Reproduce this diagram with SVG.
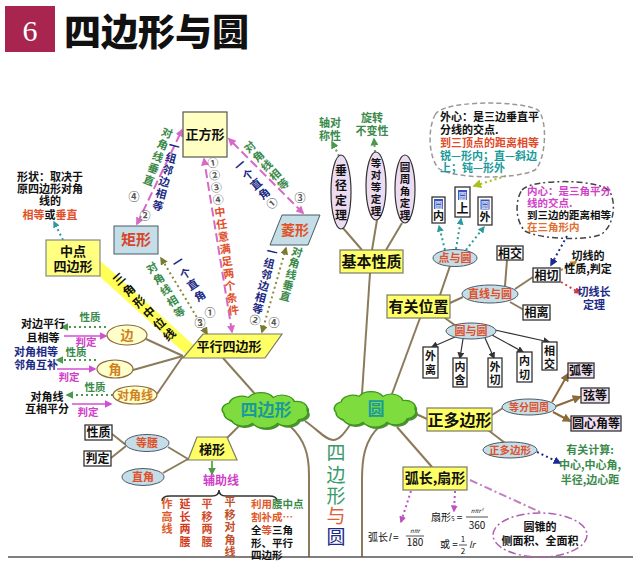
<svg xmlns="http://www.w3.org/2000/svg" width="640" height="563" viewBox="0 0 640 563">
<defs>
<style>
text{font-family:"Noto Sans CJK SC","Noto Sans",sans-serif;font-weight:bold;font-size:11px}
.c{text-anchor:middle}
.yb{fill:#ffff66;stroke:#7a7a6a;stroke-width:1.2}
.sq{fill:#ffffc4;stroke:#555;stroke-width:1.2}
.lb{fill:#c4dde6;stroke:#4a5a66;stroke-width:1}
.wb{fill:#fff;stroke:#333;stroke-width:1.3}
.pb{fill:#f0e0f2;stroke:#333;stroke-width:1.3}
.el{fill:#ecdcf2;stroke:#333;stroke-width:1.2}
.ye{fill:#ffffcc;stroke:#8b6b3b;stroke-width:1.2}
.br{stroke:#8b7b5b;stroke-width:2;fill:none}
.cl{fill:#7edc3e;stroke:#3c961c;stroke-width:1.5}
.cs{fill:#4f8f3a}
.g{fill:#3a8a4a}
.n{fill:#1c2a84}
.o{fill:#e0502a}
.k{fill:#111}
.m{fill:#d040c8}
.t{fill:#1a9a9a}
.gy{fill:#555}
.dg{stroke:#4a9a4a;stroke-width:2;stroke-dasharray:2 3;fill:none}
.pj{stroke:#d050d0;stroke-width:1.6;fill:none}
.pk{stroke:#d868c8;stroke-width:2;fill:none;stroke-dasharray:9 4}
.ol{stroke:#8a8a40;stroke-width:2;stroke-dasharray:2 3;fill:none}
.dt{stroke-width:2;stroke-dasharray:2 3;fill:none}
.dk{stroke:#333;stroke-width:1.2;fill:none}
.vt{font-size:19px;font-weight:normal}
</style>
<marker id="mPk" viewBox="0 0 10 10" refX="8" refY="5" markerWidth="8" markerHeight="8" markerUnits="userSpaceOnUse" orient="auto-start-reverse"><path d="M0,0L10,5L0,10z" fill="#d868c8"/></marker>
<marker id="mOl" viewBox="0 0 10 10" refX="8" refY="5" markerWidth="8" markerHeight="8" markerUnits="userSpaceOnUse" orient="auto-start-reverse"><path d="M0,0L10,5L0,10z" fill="#7a7a30"/></marker>
<marker id="mGr" viewBox="0 0 10 10" refX="8" refY="5" markerWidth="8" markerHeight="8" markerUnits="userSpaceOnUse" orient="auto"><path d="M0,0L10,5L0,10z" fill="#4a9a4a"/></marker>
<marker id="mMg" viewBox="0 0 10 10" refX="8" refY="5" markerWidth="8" markerHeight="8" markerUnits="userSpaceOnUse" orient="auto"><path d="M0,0L10,5L0,10z" fill="#d050d0"/></marker>
<marker id="mTl" viewBox="0 0 10 10" refX="8" refY="5" markerWidth="7" markerHeight="7" markerUnits="userSpaceOnUse" orient="auto"><path d="M0,0L10,5L0,10z" fill="#2a9a9a"/></marker>
<marker id="mNv" viewBox="0 0 10 10" refX="8" refY="5" markerWidth="8" markerHeight="8" markerUnits="userSpaceOnUse" orient="auto"><path d="M0,0L10,5L0,10z" fill="#1c2a90"/></marker>
<marker id="mBr" viewBox="0 0 10 10" refX="8" refY="5" markerWidth="9" markerHeight="9" markerUnits="userSpaceOnUse" orient="auto"><path d="M0,0L10,5L0,10z" fill="#8b6b3b"/></marker>
<marker id="mDk" viewBox="0 0 10 10" refX="8" refY="5" markerWidth="7" markerHeight="7" markerUnits="userSpaceOnUse" orient="auto"><path d="M0,0L10,5L0,10z" fill="#333"/></marker>
<marker id="mYg" viewBox="0 0 10 10" refX="8" refY="5" markerWidth="9" markerHeight="9" markerUnits="userSpaceOnUse" orient="auto"><path d="M0,0L10,5L0,10z" fill="#a8c020"/></marker>
<marker id="mRd" viewBox="0 0 10 10" refX="8" refY="5" markerWidth="7" markerHeight="7" markerUnits="userSpaceOnUse" orient="auto"><path d="M0,0L10,5L0,10z" fill="#d03a3a"/></marker>
<marker id="mOr" viewBox="0 0 10 10" refX="8" refY="5" markerWidth="7" markerHeight="7" markerUnits="userSpaceOnUse" orient="auto"><path d="M0,0L10,5L0,10z" fill="#c08030"/></marker>
<marker id="mPu" viewBox="0 0 10 10" refX="8" refY="5" markerWidth="7" markerHeight="7" markerUnits="userSpaceOnUse" orient="auto"><path d="M0,0L10,5L0,10z" fill="#c050c0"/></marker>
<path id="cloud" d="M-40,5 a10,10 0 0 1 5,-15 a12,12 0 0 1 18,-8 a14,14 0 0 1 24,0 a12,12 0 0 1 20,6 a10,10 0 0 1 12,12 a10,10 0 0 1 -8,14 a12,12 0 0 1 -20,5 a14,14 0 0 1 -24,0 a12,12 0 0 1 -20,-4 a10,10 0 0 1 -7,-10 z"/>
</defs>
<rect width="640" height="563" fill="#fff"/>

<!-- header -->
<g id="header">
<rect x="5" y="6" width="50" height="46" fill="#a8254f"/>
<text x="30" y="41" class="c" style="font-family:'Liberation Serif',serif;font-weight:normal;font-size:30px;fill:#fff">6</text>
<text x="64" y="46" style="font-size:37px;font-weight:900;fill:#111">四边形与圆</text>
</g>

<!-- connectors -->
<g id="connectors">
<path class="br" d="M290,426 C305,440 309,455 309,475 L309,557"/>
<path class="br" d="M305,421 C318,430 326,440 333,440 C340,440 345,432 350,425"/>
<path class="br" d="M380,426 C364,440 362,460 362,480 L362,557"/>
<line x1="8" y1="557" x2="633" y2="557" stroke="#555" stroke-width="1.5"/>
<line class="br" x1="223" y1="358" x2="255" y2="394"/>
<line class="br" x1="227" y1="438" x2="242" y2="423"/>
<line class="br" x1="183" y1="356" x2="146" y2="339"/>
<line class="br" x1="183" y1="356" x2="133" y2="370"/>
<line class="br" x1="183" y1="356" x2="157" y2="394"/>
<line class="br" x1="188" y1="459" x2="168" y2="447"/>
<line class="br" x1="188" y1="459" x2="163" y2="473"/>
<line class="br" x1="126" y1="445" x2="112" y2="434"/>
<line class="br" x1="126" y1="446" x2="111" y2="458"/>
<line x1="97" y1="266" x2="190" y2="350" stroke="#ffff55" stroke-width="12"/>
<line class="br" x1="362" y1="394" x2="370" y2="273"/>
<line class="br" x1="343" y1="228" x2="362" y2="250"/>
<line class="br" x1="377" y1="220" x2="372" y2="250"/>
<line class="br" x1="402" y1="223" x2="386" y2="250"/>
<line class="br" x1="392" y1="394" x2="420" y2="318"/>
<line class="br" x1="440" y1="295" x2="450" y2="266"/>
<line class="br" x1="450" y1="303" x2="463" y2="297"/>
<line class="br" x1="445" y1="318" x2="456" y2="326"/>
<line class="br" x1="505" y1="286" x2="507" y2="260"/>
<line class="br" x1="515" y1="289" x2="533" y2="277"/>
<line class="br" x1="510" y1="302" x2="524" y2="310"/>
<line class="br" x1="414" y1="413" x2="427" y2="419"/>
<line class="br" x1="397" y1="427" x2="432" y2="467"/>
<line class="br" x1="492" y1="415" x2="503" y2="408"/>
<line class="br" x1="488" y1="430" x2="505" y2="443"/>
<line x1="552" y1="402" x2="568" y2="374" stroke="#8b6b3b" stroke-width="2" marker-end="url(#mBr)"/>
<line x1="556" y1="406" x2="580" y2="397" stroke="#8b6b3b" stroke-width="2" marker-end="url(#mBr)"/>
<line x1="553" y1="412" x2="570" y2="421" stroke="#8b6b3b" stroke-width="2" marker-end="url(#mBr)"/>
<line class="dk" x1="455" y1="337" x2="432" y2="347" marker-end="url(#mDk)"/>
<line class="dk" x1="463" y1="339" x2="460" y2="358" marker-end="url(#mDk)"/>
<line class="dk" x1="485" y1="338" x2="494" y2="358" marker-end="url(#mDk)"/>
<line class="dk" x1="492" y1="335" x2="523" y2="352" marker-end="url(#mDk)"/>
<line class="dk" x1="495" y1="330" x2="549" y2="342" marker-end="url(#mDk)"/>
<line class="pk" x1="137" y1="224" x2="182" y2="130" marker-start="url(#mPk)" marker-end="url(#mPk)"/>
<line class="ol" x1="207" y1="334" x2="161" y2="258" marker-start="url(#mOl)" marker-end="url(#mOl)"/>
<line class="ol" x1="262" y1="332" x2="286" y2="248" marker-start="url(#mOl)" marker-end="url(#mOl)"/>
<line class="pk" x1="303" y1="213" x2="229" y2="139" marker-start="url(#mPk)" marker-end="url(#mPk)"/>
<line class="pk" x1="232" y1="332" x2="204" y2="159" marker-start="url(#mPk)" marker-end="url(#mPk)"/>
<line class="dt" stroke="#2a9a9a" x1="63" y1="240" x2="54" y2="222" marker-end="url(#mTl)"/>
<line class="dg" x1="106" y1="327" x2="62" y2="327" marker-end="url(#mGr)"/>
<line class="pj" x1="64" y1="336" x2="106" y2="336" marker-end="url(#mMg)"/>
<line class="dg" x1="96" y1="360" x2="57" y2="360" marker-end="url(#mGr)"/>
<line class="pj" x1="57" y1="369" x2="95" y2="369" marker-end="url(#mMg)"/>
<line class="dg" x1="113" y1="395" x2="67" y2="395" marker-end="url(#mGr)"/>
<line class="pj" x1="72" y1="404" x2="111" y2="404" marker-end="url(#mMg)"/>
<line stroke="#6ab04a" stroke-width="2" x1="212" y1="461" x2="212" y2="474" marker-end="url(#mGr)"/>
<line class="dt" stroke="#6a9a6a" x1="339" y1="156" x2="332" y2="142" marker-end="url(#mGr)"/>
<line class="dt" stroke="#6a9a6a" x1="375" y1="152" x2="374" y2="139" marker-end="url(#mGr)"/>
<line class="dt" stroke="#a8c020" x1="506" y1="176" x2="474" y2="186" marker-end="url(#mYg)"/>
<line class="dt" stroke="#2a9a9a" x1="445" y1="250" x2="439" y2="226" marker-end="url(#mTl)"/>
<line class="dt" stroke="#2a9a9a" x1="456" y1="249" x2="461" y2="219" marker-end="url(#mTl)"/>
<line class="dt" stroke="#2a9a9a" x1="466" y1="250" x2="484" y2="227" marker-end="url(#mTl)"/>
<line class="dt" stroke="#1c2a90" x1="567" y1="236" x2="551" y2="265" marker-end="url(#mNv)"/>
<line class="dt" stroke="#c08030" x1="561" y1="270" x2="576" y2="262" marker-end="url(#mOr)"/>
<line class="dt" stroke="#d03a3a" x1="561" y1="282" x2="580" y2="293" marker-end="url(#mRd)"/>
<line class="dt" stroke="#1c2a90" x1="537" y1="452" x2="560" y2="463" marker-end="url(#mNv)"/>
<line class="dt" stroke="#c050c0" x1="411" y1="491" x2="401" y2="522" marker-end="url(#mPu)"/>
<line class="dt" stroke="#c050c0" x1="455" y1="491" x2="454" y2="511" marker-end="url(#mPu)"/>
<line stroke="#c080c0" stroke-width="2" stroke-dasharray="8 3 2 3" x1="470" y1="480" x2="540" y2="512"/>
<path d="M162,501 Q162,496 170,496 L212,496 Q219,496 219,490 Q219,496 226,496 L269,496 Q277,496 277,501" fill="none" stroke="#333" stroke-width="1.5"/>
</g>

<g id="square"><rect class="sq" x="183" y="112" width="44" height="45"/><text x="205" y="139" class="c k" style="font-size:13px">正方形</text></g>
<g id="rect"><rect class="lb" x="114" y="226" width="44" height="28"/><text x="136" y="245" class="c" style="font-size:15px;fill:#d9452a">矩形</text></g>
<g id="rhombus"><polygon class="lb" points="282,215 320,215 308,245 270,245"/><text x="295" y="235" class="c" style="font-size:14px;fill:#e05020">菱形</text></g>
<g id="midquad"><rect x="46" y="240" width="54" height="36" fill="#ffff80" stroke="#888" stroke-width="1.2"/><text x="73" y="256" class="c k" style="font-size:13px">中点</text><text x="73" y="271" class="c k" style="font-size:13px">四边形</text></g>
<g id="shape-note">
<text x="50" y="181" class="c k">形状：取决于</text>
<text x="50" y="193" class="c k">原四边形对角</text>
<text x="50" y="205" class="c k">线的</text>
<text x="50" y="219" class="c k"><tspan class="o">相等</tspan>或<tspan class="o">垂直</tspan></text>
</g>
<g id="para"><polygon class="yb" points="203,334 282,334 265,358 183,358"/><text x="229" y="351" class="c k" style="font-size:13px">平行四边形</text></g>

<g id="col-labels">
<text class="c k" style="font-size:12px" transform="translate(119,279) rotate(-42)"><tspan x="0" y="4.5">三</tspan><tspan x="0" y="19.5">角</tspan><tspan x="0" y="34.5">形</tspan><tspan x="0" y="49.5">中</tspan><tspan x="0" y="64.5">位</tspan><tspan x="0" y="79.5">线</tspan></text>
<text class="c g" transform="translate(167,133) rotate(21)"><tspan x="0" y="4">对</tspan><tspan x="0" y="16.7">角</tspan><tspan x="0" y="29.4">线</tspan><tspan x="0" y="42.1">垂</tspan><tspan x="0" y="54.8">直</tspan></text>
<text x="134" y="201" class="c gy">④</text>
<text class="c n" transform="translate(174,146) rotate(15)"><tspan x="0" y="4">一</tspan><tspan x="0" y="16.4">组</tspan><tspan x="0" y="28.8">邻</tspan><tspan x="0" y="41.2">边</tspan><tspan x="0" y="53.6">相</tspan><tspan x="0" y="66">等</tspan></text>
<text x="145" y="220" class="c gy">②</text>
<text class="c g" transform="translate(152,268) rotate(-32)"><tspan x="0" y="4">对</tspan><tspan x="0" y="17">角</tspan><tspan x="0" y="30">线</tspan><tspan x="0" y="43">相</tspan><tspan x="0" y="56">等</tspan></text>
<text x="200" y="327" class="c gy">③</text>
<text class="c n" transform="translate(178,262) rotate(-33)"><tspan x="0" y="4">一</tspan><tspan x="0" y="17.5">个</tspan><tspan x="0" y="31">直</tspan><tspan x="0" y="44.5">角</tspan></text>
<text x="210" y="317" class="c gy">①</text>
<text class="c n" transform="translate(272,252) rotate(14)"><tspan x="0" y="4">一</tspan><tspan x="0" y="15.7">组</tspan><tspan x="0" y="27.4">邻</tspan><tspan x="0" y="39.1">边</tspan><tspan x="0" y="50.8">相</tspan><tspan x="0" y="62.5">等</tspan><tspan x="0" y="74.2" class="gy">②</tspan></text>
<text class="c g" transform="translate(297,252) rotate(15)"><tspan x="0" y="4">对</tspan><tspan x="0" y="15.5">角</tspan><tspan x="0" y="27">线</tspan><tspan x="0" y="38.5">垂</tspan><tspan x="0" y="50">直</tspan></text>
<text x="274" y="327" class="c gy">④</text>
<text class="c n" transform="translate(240,165) rotate(-40)"><tspan x="0" y="4">一</tspan><tspan x="0" y="16.5">个</tspan><tspan x="0" y="29">直</tspan><tspan x="0" y="41.5">角</tspan><tspan x="0" y="54" class="gy">①</tspan></text>
<text class="c g" transform="translate(250,147) rotate(-42)"><tspan x="0" y="4">对</tspan><tspan x="0" y="16.5">角</tspan><tspan x="0" y="29">线</tspan><tspan x="0" y="41.5">相</tspan><tspan x="0" y="54">等</tspan></text>
<text x="300" y="202" class="c gy">③</text>
<text class="c o" transform="translate(213,163) rotate(-8)"><tspan x="0" y="4" class="gy">①</tspan><tspan x="0" y="16.4" class="gy">②</tspan><tspan x="0" y="28.8" class="gy">③</tspan><tspan x="0" y="41.2" class="gy">④</tspan><tspan x="0" y="53.6">中</tspan><tspan x="0" y="66">任</tspan><tspan x="0" y="78.4">意</tspan><tspan x="0" y="90.8">满</tspan><tspan x="0" y="103.2">足</tspan><tspan x="0" y="115.6">两</tspan><tspan x="0" y="128">个</tspan><tspan x="0" y="140.4">条</tspan><tspan x="0" y="152.8">件</tspan></text>
</g>

<g id="side"><ellipse class="ye" cx="127" cy="335" rx="20" ry="10"/><text x="127" y="340" class="c" style="font-size:13px;fill:#d08020">边</text></g>
<g id="angle"><ellipse class="ye" cx="115" cy="369" rx="18" ry="9"/><text x="115" y="374" class="c" style="font-size:13px;fill:#d08020">角</text></g>
<g id="diag"><ellipse class="ye" cx="135" cy="395" rx="22" ry="9"/><text x="135" y="400" class="c" style="font-size:12px;fill:#d08020">对角线</text></g>
<g id="props-left">
<text x="43" y="328" class="c k">对边平行</text><text x="43" y="342" class="c k">且相等</text>
<text x="36" y="356" class="c n">对角相等</text><text x="36" y="369" class="c n">邻角互补</text>
<text x="47" y="401" class="c k">对角线</text><text x="47" y="413" class="c k">互相平分</text>
<text x="90" y="321" class="c g" style="font-size:10.5px">性质</text><text x="86" y="346" class="c m" style="font-size:10.5px">判定</text>
<text x="76" y="356" class="c g" style="font-size:10.5px">性质</text><text x="69" y="381" class="c m" style="font-size:10.5px">判定</text>
<text x="95" y="391" class="c g" style="font-size:10.5px">性质</text><text x="88" y="416" class="c m" style="font-size:10.5px">判定</text>
</g>

<g id="quad-cloud"><use href="#cloud" class="cs" transform="translate(268,412) scale(1.05,0.7)"/><use href="#cloud" class="cl" transform="translate(266,410) scale(1.05,0.7)"/><text x="266" y="416" class="c t" style="font-size:17px">四边形</text></g>
<g id="circle-cloud"><use href="#cloud" class="cs" transform="translate(378,411) scale(1.0,0.7)"/><use href="#cloud" class="cl" transform="translate(376,409) scale(1.0,0.7)"/><text x="376" y="415" class="c t" style="font-size:17px">圆</text></g>

<g id="trap"><polygon class="yb" points="197,437 227,437 237,460 188,460"/><text x="212" y="454" class="c k" style="font-size:13px">梯形</text></g>
<g id="iso"><ellipse class="lb" cx="147" cy="443" rx="22" ry="8.5"/><text x="147" y="447" class="c o">等腰</text></g>
<g id="right"><ellipse class="lb" cx="143" cy="477" rx="21" ry="8.5"/><text x="143" y="481" class="c o">直角</text></g>
<g id="trap-prop"><rect class="wb" x="85" y="425" width="27" height="15"/><text x="98.5" y="437" class="c k" style="font-size:12px">性质</text></g>
<g id="trap-judge"><rect class="wb" x="84" y="451" width="27" height="15"/><text x="97.5" y="463" class="c k" style="font-size:12px">判定</text></g>
<g id="aux"><text x="221" y="485" class="c m" style="font-size:12px">辅助线</text>
<text class="c" style="fill:#e05a2a"><tspan x="167" y="508">作</tspan><tspan x="167" y="520.5">高</tspan><tspan x="167" y="533">线</tspan></text>
<text class="c" style="fill:#d03a20"><tspan x="185" y="508">延</tspan><tspan x="185" y="520.5">长</tspan><tspan x="185" y="533">两</tspan><tspan x="185" y="545.5">腰</tspan></text>
<text class="c" style="fill:#d04a2a"><tspan x="207" y="508">平</tspan><tspan x="207" y="520.5">移</tspan><tspan x="207" y="533">两</tspan><tspan x="207" y="545.5">腰</tspan></text>
<text class="c" style="fill:#c0502a"><tspan x="230" y="506">平</tspan><tspan x="230" y="518.5">移</tspan><tspan x="230" y="531">对</tspan><tspan x="230" y="543.5">角</tspan><tspan x="230" y="556">线</tspan></text>
<text x="251" y="508" style="font-size:10.5px;fill:#e05a2a">利用<tspan class="g">腰中点</tspan></text>
<text x="251" y="521" style="font-size:10.5px;fill:#e05a2a">割补成…</text>
<text x="251" y="534" class="k" style="font-size:10.5px">全<tspan class="o">等</tspan>三角</text>
<text x="251" y="547" class="k" style="font-size:10.5px">形、平行</text>
<text x="251" y="559" class="k" style="font-size:10.5px">四边形</text>
</g>

<g id="vtitle">
<text x="336" y="460" class="c vt" style="fill:#3a9a6a">四</text>
<text x="336" y="482" class="c vt" style="fill:#3a9a6a">边</text>
<text x="336" y="503" class="c vt" style="fill:#3a9a6a">形</text>
<text x="336" y="523" class="c vt" style="fill:#e0603a">与</text>
<text x="336" y="544" class="c vt" style="fill:#1c2a8a">圆</text>
</g>

<g id="basic"><rect class="yb" x="340" y="250" width="63" height="23"/><text x="371.5" y="267" class="c k" style="font-size:15px">基本性质</text></g>
<g id="chord"><ellipse class="el" cx="341" cy="192" rx="10" ry="37"/><text class="c k" style="font-size:12px"><tspan x="341" y="175">垂</tspan><tspan x="341" y="190">径</tspan><tspan x="341" y="205">定</tspan><tspan x="341" y="220">理</tspan></text></g>
<g id="equal"><ellipse class="el" cx="376" cy="186" rx="10" ry="34"/><text class="c k" style="font-size:10.5px"><tspan x="376" y="167">等</tspan><tspan x="376" y="179">对</tspan><tspan x="376" y="191">等</tspan><tspan x="376" y="203">定</tspan><tspan x="376" y="215">理</tspan></text></g>
<g id="inscribed"><ellipse class="el" cx="405" cy="189" rx="10" ry="34"/><text class="c k" style="font-size:10.5px"><tspan x="405" y="171">圆</tspan><tspan x="405" y="183">周</tspan><tspan x="405" y="195">角</tspan><tspan x="405" y="207">定</tspan><tspan x="405" y="219">理</tspan></text></g>
<g id="sym"><text x="330" y="127" class="c g">轴对</text><text x="330" y="140" class="c g">称性</text></g>
<g id="rot"><text x="372" y="122" class="c g">旋转</text><text x="372" y="135" class="c g">不变性</text></g>

<g id="circum">
<path d="M435,115 C442,100 520,100 538,110 C548,120 546,160 535,170 C515,180 452,179 438,168 C428,155 428,128 435,115 Z" fill="none" stroke="#999" stroke-width="1.5" stroke-dasharray="5 3"/>
<text x="440" y="121" class="k">外心：是三边垂直平</text>
<text x="440" y="134" class="k">分线的交点.</text>
<text x="440" y="147" style="fill:#e04a2a">到三顶点的距离相等</text>
<text x="440" y="160" class="t">锐—形内；直—斜边</text>
<text x="440" y="172" class="t">上；钝—形外</text>
</g>
<g id="in-c"><rect class="wb" x="432" y="197" width="13" height="26"/><rect x="434" y="199" width="9" height="10" fill="#3a50c0"/><text x="438.5" y="207.5" class="c" style="font-size:8px;fill:#cde">圆</text><text x="438.5" y="220" class="c k">内</text></g>
<g id="on-c"><rect class="wb" x="455" y="187" width="15" height="30"/><rect x="458" y="190" width="9" height="10" fill="#3a50c0"/><text x="462.5" y="198.5" class="c" style="font-size:8px;fill:#cde">圆</text><text x="462.5" y="213" class="c k" style="font-size:12px">上</text></g>
<g id="out-c"><rect class="wb" x="478" y="197" width="14" height="28"/><rect x="480.5" y="199.5" width="9" height="10" fill="#3a50c0"/><text x="485" y="208" class="c" style="font-size:8px;fill:#cde">圆</text><text x="485" y="221" class="c k">外</text></g>
<g id="pt-c"><ellipse class="lb" cx="455" cy="258" rx="22" ry="8.5"/><text x="455" y="262" class="c o">点与圆</text></g>

<g id="incen">
<path d="M522,190 C530,179 600,178 610,192 C617,205 613,228 600,235 C580,241 540,239 525,231 C515,221 515,200 522,190 Z" fill="none" stroke="#444" stroke-width="1.5" stroke-dasharray="6 3 2 3"/>
<text x="527" y="195" class="m" style="font-size:10.5px">内心：是三角平分</text>
<text x="527" y="207" class="m" style="font-size:10.5px">线的交点.</text>
<text x="527" y="219" class="k" style="font-size:10.5px">到三边的距离相等</text>
<text x="527" y="231" style="font-size:10.5px;fill:#e07030">在三角形内</text>
</g>
<g id="line-c"><ellipse class="lb" cx="490" cy="294" rx="28" ry="9"/><text x="490" y="298" class="c o">直线与圆</text></g>
<g id="lc-int"><rect class="wb" x="497" y="246" width="26" height="14"/><text x="510" y="257.5" class="c k" style="font-size:12px">相交</text></g>
<g id="lc-tan"><rect class="wb" x="533" y="268" width="27" height="14"/><text x="546.5" y="279.5" class="c k" style="font-size:12px">相切</text></g>
<g id="lc-sep"><rect class="wb" x="523" y="305" width="27" height="15"/><text x="536.5" y="317" class="c k" style="font-size:12px">相离</text></g>
<g id="tan-prop"><text x="588" y="260" class="c k">切线的</text><text x="588" y="273" class="c k">性质,判定</text></g>
<g id="tan-len"><text x="594" y="296" class="c n">切线长</text><text x="594" y="309" class="c n">定理</text></g>

<g id="position"><rect class="yb" x="387" y="295" width="63" height="23"/><text x="418.5" y="312" class="c k" style="font-size:15px">有关位置</text></g>
<g id="cc"><ellipse class="lb" cx="471" cy="331" rx="25" ry="8"/><text x="471" y="335" class="c o">圆与圆</text></g>
<g id="cc1"><rect class="wb" x="423" y="347" width="15" height="31"/><text class="c k"><tspan x="430.5" y="360">外</tspan><tspan x="430.5" y="374">离</tspan></text></g>
<g id="cc2"><rect class="wb" x="453" y="358" width="14" height="29"/><text class="c k"><tspan x="460" y="371">内</tspan><tspan x="460" y="384">含</tspan></text></g>
<g id="cc3"><rect class="wb" x="488" y="358" width="14" height="29"/><text class="c k"><tspan x="495" y="371">外</tspan><tspan x="495" y="384">切</tspan></text></g>
<g id="cc4"><rect class="wb" x="517" y="352" width="15" height="30"/><text class="c k"><tspan x="524.5" y="365">内</tspan><tspan x="524.5" y="379">切</tspan></text></g>
<g id="cc5"><rect class="wb" x="542" y="342" width="15" height="28"/><text class="c k"><tspan x="549.5" y="355">相</tspan><tspan x="549.5" y="368">交</tspan></text></g>

<g id="regpoly"><rect class="yb" x="427" y="408" width="65" height="23"/><text x="459.5" y="425.5" class="c k" style="font-size:16px">正多边形</text></g>
<g id="divide"><ellipse class="lb" cx="529" cy="407" rx="27" ry="8"/><text x="529" y="411" class="c o" style="font-size:10px">等分圆周</text></g>
<g id="arc-eq"><rect class="pb" x="568" y="363" width="26" height="15"/><text x="581" y="375" class="c k" style="font-size:12px">弧等</text></g>
<g id="chord-eq"><rect class="pb" x="581" y="388" width="28" height="15"/><text x="595" y="400" class="c k" style="font-size:12px">弦等</text></g>
<g id="angle-eq"><rect class="pb" x="571" y="416" width="50" height="15"/><text x="596" y="428" class="c k" style="font-size:12px">圆心角等</text></g>
<g id="regpoly2"><ellipse class="lb" cx="510" cy="450" rx="27" ry="8"/><text x="510" y="454" class="c o" style="font-size:10.5px">正多边形</text></g>
<g id="calc"><text x="590" y="454" class="c g">有关计算:</text><text x="590" y="469" class="c g">中心,中心角,</text><text x="590" y="484" class="c g">半径,边心距</text></g>

<g id="arcsec"><rect class="yb" x="403" y="467" width="64" height="23"/><text x="435" y="483" class="c k" style="font-size:14px">弧长,扇形</text></g>
<g id="formulas">
<text x="368" y="541" class="k" style="font-size:10px;font-weight:normal">弧长<tspan font-style="italic">l</tspan> =</text>
<text x="415" y="533" class="c k" style="font-size:6px;font-weight:normal;font-style:italic">nπr</text>
<line x1="406" y1="536" x2="424" y2="536" stroke="#222" stroke-width="0.8"/>
<text x="415" y="546" class="c k" style="font-size:10px;font-weight:normal">180</text>
<text x="431" y="521" class="k" style="font-size:10px;font-weight:normal">扇形<tspan style="font-size:6px">S</tspan> =</text>
<text x="477" y="513" class="c k" style="font-size:6px;font-weight:normal;font-style:italic">nπr²</text>
<line x1="466" y1="517" x2="488" y2="517" stroke="#222" stroke-width="0.8"/>
<text x="477" y="529" class="c k" style="font-size:10px;font-weight:normal">360</text>
<text x="440" y="548" class="k" style="font-size:10px;font-weight:normal">或 =</text>
<text x="463" y="542" class="c k" style="font-size:8px;font-weight:normal">1</text>
<line x1="459" y1="545" x2="467" y2="545" stroke="#222" stroke-width="0.8"/>
<text x="463" y="554" class="c k" style="font-size:8px;font-weight:normal">2</text>
<text x="469" y="548" class="k" style="font-size:9px;font-weight:normal;font-style:italic">lr</text>
</g>
<g id="cone"><ellipse cx="540" cy="535" rx="47" ry="22" fill="none" stroke="#b060b0" stroke-width="1.5" stroke-dasharray="8 3 2 3"/><text x="540" y="531" class="c k">圆锥的</text><text x="540" y="545" class="c k">侧面积、全面积</text></g>
</svg>
